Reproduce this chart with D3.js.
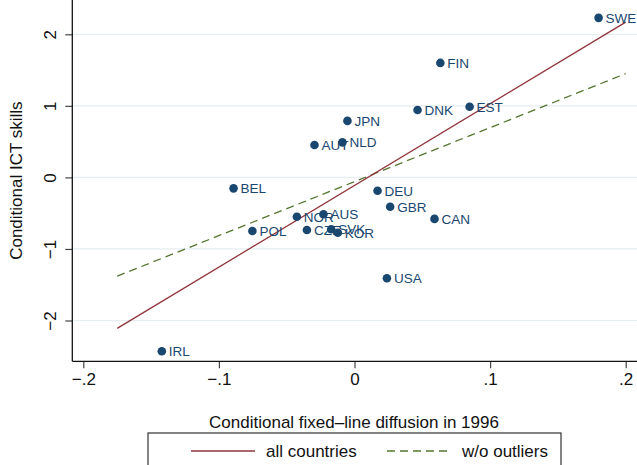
<!DOCTYPE html>
<html>
<head>
<meta charset="utf-8">
<script src="https://cdn.jsdelivr.net/npm/d3@7"></script>
<style>
  body { margin: 0; background: #fff; }
  svg { display: block; font-family: "Liberation Sans", Arial, sans-serif; }
</style>
</head>
<body>
<svg id="chart" width="637" height="465"></svg>
<script>
// ---- data ----
const countries = ["SWE","FIN","EST","DNK","JPN","NLD","AUT","BEL","DEU","GBR","CAN","NOR","AUS","POL","CZE","SVK","KOR","USA","IRL"];
const xVals = [0.180, 0.0633, 0.0849, 0.0465, -0.0052, -0.0089, -0.0295, -0.0892, 0.0170, 0.0263, 0.0590, -0.0425, -0.0229, -0.0753, -0.0351, -0.0172, -0.0123, 0.0239, -0.1421];
const yVals = [2.23, 1.60, 0.988, 0.942, 0.79, 0.49, 0.453, -0.153, -0.186, -0.41, -0.58, -0.549, -0.516, -0.749, -0.735, -0.725, -0.773, -1.41, -2.43];
const fitX = [-0.175, 0.2];
const fitAll = [-2.11, 2.17];
const fitWo = [-1.38, 1.45];
const xTicks = [-0.2, -0.1, 0, 0.1, 0.2];
const xTickLabels = ["\u2212.2", "\u2212.1", "0", ".1", ".2"];
const yTicks = [-2, -1, 0, 1, 2];
const yTickLabels = ["\u22122", "\u22121", "0", "1", "2"];
const seriesNames = ["all countries", "w/o outliers"];

// ---- layout ----
const plotL = 72.3, plotR = 637, plotT = 0, plotB = 361.3;
const navy = "#1a476f", maroon = "#90353b", green = "#55752f";
const svg = d3.select("#chart");

const x = d3.scaleLinear().domain([-0.2, 0.2]).range([83.3, 625.7]);
const y = d3.scaleLinear().domain([-2, 2]).range([320.5, 34.3]);

// gridlines
svg.append("g").selectAll("line").data(yTicks).join("line")
  .attr("x1", plotL).attr("x2", plotR)
  .attr("y1", d => y(d)).attr("y2", d => y(d))
  .attr("stroke", "#e6eef1").attr("stroke-width", 1.2);

// axes
const xAxis = d3.axisBottom(x).tickValues(xTicks).tickSize(7).tickPadding(4)
  .tickFormat((d, i) => xTickLabels[i]);
const gx = svg.append("g").attr("transform", `translate(0,${plotB})`).call(xAxis);
gx.select(".domain").remove();
gx.selectAll(".tick line").attr("stroke", "#444").attr("stroke-width", 1.2);
gx.selectAll(".tick text").attr("font-size", 17).attr("fill", "#111").attr("dy", "0.72em");
svg.append("line").attr("x1", plotL).attr("x2", plotR).attr("y1", plotB).attr("y2", plotB)
  .attr("stroke", "#111").attr("stroke-width", 1.3);

const yAxis = d3.axisLeft(y).tickValues(yTicks).tickSize(7).tickPadding(0)
  .tickFormat((d, i) => yTickLabels[i]);
const gy = svg.append("g").attr("transform", `translate(${plotL},0)`).call(yAxis);
gy.select(".domain").remove();
gy.selectAll(".tick line").attr("stroke", "#444").attr("stroke-width", 1.2);
gy.selectAll(".tick text")
  .attr("font-size", 17).attr("fill", "#111")
  .attr("text-anchor", "middle").attr("x", 0).attr("dy", 0)
  .attr("transform", "translate(-22,0) rotate(-90)")
  .attr("dominant-baseline", "central");
svg.append("line").attr("x1", plotL).attr("x2", plotL).attr("y1", plotT).attr("y2", plotB)
  .attr("stroke", "#111").attr("stroke-width", 1.3);

// fit lines
const line = d3.line().x(d => x(d[0])).y(d => y(d[1]));
svg.append("path").datum(fitX.map((v, i) => [v, fitWo[i]])).attr("d", line)
  .attr("fill", "none").attr("stroke", green).attr("stroke-width", 1.3).attr("stroke-dasharray", "8,5");
svg.append("path").datum(fitX.map((v, i) => [v, fitAll[i]])).attr("d", line)
  .attr("fill", "none").attr("stroke", maroon).attr("stroke-width", 1.3);

// points
const pts = countries.map((c, i) => ({c, x: xVals[i], y: yVals[i]}));
svg.append("g").selectAll("circle").data(pts).join("circle")
  .attr("cx", d => x(d.x)).attr("cy", d => y(d.y)).attr("r", 4.3).attr("fill", navy);
svg.append("g").selectAll("text").data(pts).join("text")
  .attr("x", d => x(d.x) + 7).attr("y", d => y(d.y)).attr("dy", "0.36em")
  .attr("font-size", 13.5).attr("fill", navy).text(d => d.c);

// axis titles
svg.append("text").attr("x", 354).attr("y", 428)
  .attr("text-anchor", "middle").attr("font-size", 17).attr("fill", "#111")
  .text("Conditional fixed\u2013line diffusion in 1996");
svg.append("text").attr("transform", `translate(22,${(plotT + plotB) / 2}) rotate(-90)`)
  .attr("text-anchor", "middle").attr("font-size", 17).attr("fill", "#111")
  .text("Conditional ICT skills");

// legend
const lg = svg.append("g");
lg.append("rect").attr("x", 148).attr("y", 433).attr("width", 413).attr("height", 50)
  .attr("fill", "#fff").attr("stroke", "#333").attr("stroke-width", 1.2);
const legY = 451;
lg.append("line").attr("x1", 191).attr("x2", 255).attr("y1", legY).attr("y2", legY)
  .attr("stroke", maroon).attr("stroke-width", 1.3);
lg.append("text").attr("x", 266).attr("y", legY).attr("dy", "0.36em").attr("font-size", 17)
  .attr("fill", "#111").text(seriesNames[0]);
lg.append("line").attr("x1", 387).attr("x2", 451).attr("y1", legY).attr("y2", legY)
  .attr("stroke", green).attr("stroke-width", 1.3).attr("stroke-dasharray", "8,5");
lg.append("text").attr("x", 462).attr("y", legY).attr("dy", "0.36em").attr("font-size", 17)
  .attr("fill", "#111").text(seriesNames[1]);
</script>
</body>
</html>
